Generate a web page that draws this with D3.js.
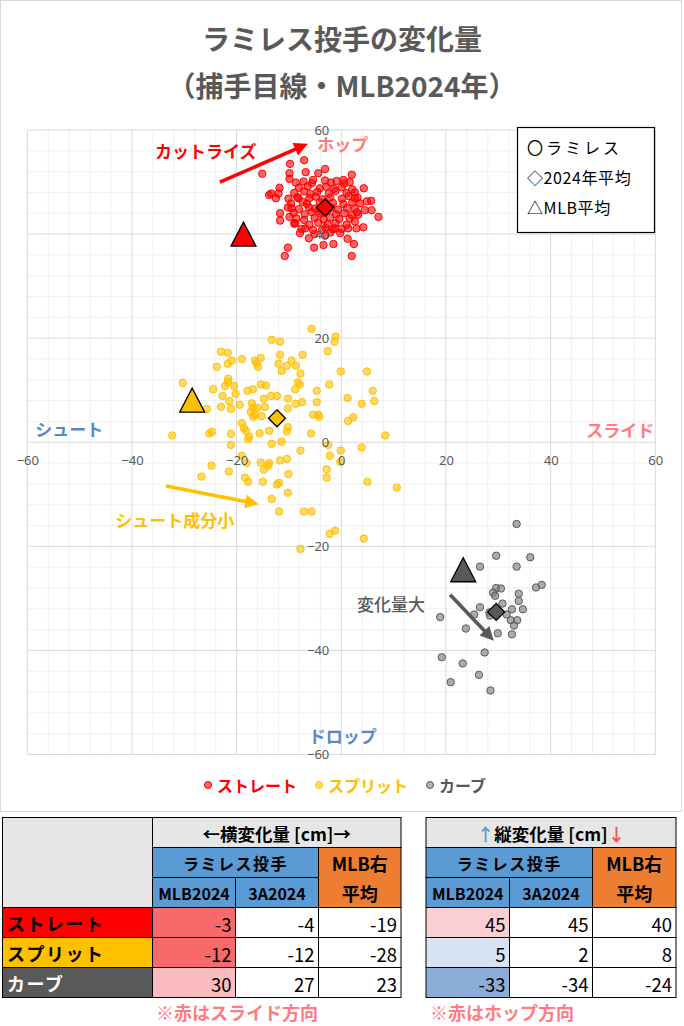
<!DOCTYPE html>
<html><head><meta charset="utf-8">
<script src="https://cdn.jsdelivr.net/npm/d3@7"></script>
<style>body{margin:0;background:#fff}</style>
</head><body>
<svg id="c" width="684" height="1026"></svg>
<script>
// ---------- DATA ----------
const pitchNames = ["ストレート", "スプリット", "カーブ"];
const straightPts = [
[-7.1,54.2],[-3.1,52.5],[-9.8,53.5],[-6.8,51.9],[-4.4,51.7],[2.0,51.4],[-15.1,51.6],[-9.9,51.7],[-9.9,50.6],[-8.7,49.9],
[-5.4,50.4],[4.3,48.8],[-11.8,48.9],[-13.4,47.8],[-13.8,47.5],[-12.0,47.8],[-12.5,46.9],[5.7,46.4],[4.9,46.3],[5.8,44.6],
[4.5,44.6],[7.1,43.3],[-11.7,44.0],[-11.7,42.6],[-9.9,43.3],[4.2,41.3],[2.9,41.1],[1.3,41.1],[-7.9,40.2],[-6.2,39.2],
[-3.4,37.9],[-1.5,38.1],[1.2,39.1],[2.4,38.1],[-10.2,37.4],[-5.2,37.4],[-0.2,40.2],[-10.8,35.8],[2.0,35.8],
[0.4,50.4],[2.6,46.9],[3.2,43.7],[2.6,42.4],[-8.2,46.9],[-9.5,45.0],[-8.8,42.1],[-1.2,41.1],[-3.7,40.8],[-6.9,41.1],
[-7.2,50.1],[-5.6,49.8],[-3.1,50.3],[-2.0,49.9],[-0.9,50.2],[0.6,49.7],[1.6,50.0],
[-8.1,48.9],[-6.4,49.2],[-4.1,48.8],[-2.9,49.1],[-1.4,48.7],[0.1,49.0],[2.1,48.6],
[-9.0,47.9],[-7.1,48.2],[-5.9,47.7],[-4.6,48.1],[-2.4,47.8],[-1.1,48.3],[1.0,47.9],[2.6,48.0],
[-10.1,46.8],[-8.4,47.1],[-6.1,46.9],[-4.9,47.2],[-3.6,46.7],[-2.1,47.0],[0.1,46.8],[1.4,47.3],[3.1,47.0],
[-9.6,45.9],[-7.4,46.2],[-6.6,45.8],[-4.1,46.1],[-2.9,45.7],[-1.6,46.0],[0.4,45.8],[2.1,46.1],[3.6,45.9],
[-10.2,45.1],[-8.1,44.8],[-6.2,45.2],[-5.0,44.9],[-1.9,45.1],[-0.6,44.7],[1.1,45.0],[2.6,44.9],
[-9.1,44.1],[-7.0,43.8],[-5.6,44.2],[-4.0,43.9],[-3.1,44.3],[-1.0,43.8],[0.6,44.0],[2.0,43.7],[3.0,44.2],
[-8.6,43.0],[-7.1,42.7],[-5.1,43.1],[-3.4,42.8],[-2.1,43.2],[-0.4,42.9],[1.6,43.0],
[-9.0,42.0],[-6.1,41.8],[-4.4,42.2],[-2.6,41.9],[-1.1,42.1],[1.0,41.8],
[-7.6,41.0],[-5.4,40.8],[-3.0,41.2],[-1.6,40.9],[0.1,41.0],
[-5.1,40.0],[-3.1,39.7],[-2.1,40.3],
[-3.5,45.3],[-4.2,45.0],[-2.6,44.6],[-3.8,44.3]
];
const splitPts = [
[-5.7,21.8],[-1.1,20.3],[-1.3,19.3],[-13.3,19.7],[-11.7,19.3],[-2.6,17.5],[-23.0,17.4],[-21.7,17.2],[-11.7,16.8],[-7.4,16.8],
[-19.0,16.0],[-15.4,16.2],[-16.5,15.7],[-20.9,15.7],[-21.7,15.1],[-16.2,15.2],[-12.0,15.1],[-9.5,15.7],[-10.4,14.7],[-8.7,14.7],
[-23.8,14.5],[-15.9,14.5],[-11.4,13.7],[-7.8,13.2],[-0.1,13.6],[4.9,13.6],[-21.6,12.2],[-21.7,11.6],[-30.3,11.4],[-22.2,10.8],
[-20.5,10.8],[-8.3,11.5],[-7.9,11.1],[-2.3,11.1],[-15.4,11.1],[-14.4,10.9],[-24.5,10.2],[-17.9,9.9],[-16.9,10.2],[-8.8,10.2],
[-4.7,9.9],[-20.2,9.3],[6.0,9.9],[-22.7,8.9],[-13.4,8.9],[-12.3,8.9],[-14.8,8.4],[-10.2,8.4],[1.2,8.5],[-21.4,7.9],
[-17.1,7.5],[-19.4,7.2],[-8.7,7.4],[-7.5,7.7],[-4.7,7.7],[3.9,7.4],[6.3,7.9],[-25.7,6.4],[-23.0,6.8],[-21.1,6.4],
[-16.9,6.6],[-16.1,6.6],[-14.6,6.8],[-10.2,6.5],[-17.3,5.8],[-16.5,5.3],[-15.2,5.0],[-16.8,4.9],[-5.4,5.3],[-4.4,5.3],
[-4.2,4.9],[2.3,4.8],[1.3,4.1],[-19.0,3.7],[-18.6,2.7],[-18.2,2.2],[-10.2,2.9],[-13.8,2.2],[-10.4,2.1],[-25.2,1.7],
[-24.7,2.0],[-21.1,1.6],[-15.6,1.7],[-5.8,1.7],[-32.3,1.3],[8.4,1.3],[-17.6,1.1],
[-21.1,-0.5],[-17.8,0.6],[-13.3,-0.3],[-11.4,0.1],[-2.5,-0.5],[-0.1,-1.6],[3.9,-1.0],[-7.8,-1.6],[-2.2,-2.6],[-19.0,-2.6],
[-18.1,-4.0],[-24.8,-4.5],[-15.4,-3.9],[-13.8,-4.0],[-14.0,-4.5],[-11.7,-3.5],[-10.4,-3.2],[-0.2,-3.8],[-21.5,-5.6],[-14.8,-5.3],
[-26.7,-6.6],[-2.8,-5.2],[-2.8,-6.8],[-10.1,-6.1],[-18.4,-6.8],[-17.8,-7.6],[-15.0,-7.6],[-12.3,-8.1],[-11.9,-7.8],[5.0,-7.6],
[10.6,-8.7],[-10.2,-9.7],[-13.3,-10.9],[-11.9,-13.3],[-7.1,-13.3],[-5.7,-13.3],[-1.2,-17.0],[-2.2,-17.6],[4.3,-18.5],[-7.8,-20.5]
];
const curvePts = [
[33.5,-15.7],[29.6,-21.8],[36.1,-22.1],[26.5,-23.9],[33.5,-23.9],[37.2,-27.9],[38.3,-27.4],[29.6,-28.0],[30.5,-28.1],[29.0,-28.9],
[29.4,-29.5],[33.9,-29.1],[33.9,-30.5],[30.8,-31.0],[26.5,-31.7],[32.6,-32.1],[34.7,-32.1],[31.6,-33.1],[28.3,-32.7],[25.4,-33.1],
[18.9,-33.6],[28.4,-33.3],[32.4,-34.2],[33.6,-34.2],[33.0,-35.2],[23.8,-35.8],[29.9,-36.7],[32.6,-36.9],[27.4,-40.4],[19.2,-41.3],
[23.2,-42.5],[26.3,-44.7],[20.9,-46.1],[28.5,-47.7]
];
const seasonAvgX = [-3.1, -12.3, 29.6];
const seasonAvgY = [45.1, 4.6, -32.6];
const mlbAvgX = [-18.7, -28.5, 23.3];
const mlbAvgY = [40.0, 8.1, -24.5];
const axisTicks = [-60, -40, -20, 0, 20, 40, 60];

const horizMLB = [-3, -12, 30];
const horiz3A  = [-4, -12, 27];
const horizAvg = [-19, -28, 23];
const vertMLB  = [45, 5, -33];
const vert3A   = [45, 2, -34];
const vertAvg  = [40, 8, -24];

// ---------- STYLE ----------
const JP = "'Noto Sans CJK JP','Noto Sans',sans-serif";
const NUM = "'Noto Sans','DejaVu Sans',sans-serif";
const fillCol = ["#ff0000", "#ffc000", "#7f7f7f"];
const strokeCol = ["#ff0000", "#ffc000", "#5a5a5a"];
const markCol = ["#ff0000", "#ffc000", "#595959"];
const legTextCol = ["#ff0000", "#ffc000", "#595959"];
const rowBg = ["#ff0000", "#ffc000", "#595959"];
const rowFg = ["#000", "#000", "#fff"];
const slideCol = "#ff7c80", shootCol = "#5b87c5";

const svg = d3.select("#c");
const x = d3.scaleLinear().domain([-60, 60]).range([27.3, 655.3]);
const y = d3.scaleLinear().domain([-60, 60]).range([754.5, 130]);

svg.append("rect").attr("width", 684).attr("height", 1026).attr("fill", "#fff");
svg.append("rect").attr("x", 0.5).attr("y", 0.5).attr("width", 681).attr("height", 811)
  .attr("fill", "none").attr("stroke", "#d9d9d9");

// title
svg.append("text").attr("x", 342).attr("y", 38).attr("text-anchor", "middle").attr("dominant-baseline", "central")
  .attr("font-family", JP).attr("font-weight", "bold").attr("font-size", 28).attr("fill", "#595959").text("ラミレス投手の変化量");
svg.append("text").attr("x", 342).attr("y", 85).attr("text-anchor", "middle").attr("dominant-baseline", "central")
  .attr("font-family", JP).attr("font-weight", "bold").attr("font-size", 28).attr("fill", "#595959").text("（捕手目線・MLB2024年）");

// grid
const gridVals = d3.range(-60, 61, 4).sort((a, b) => (a % 20 === 0) - (b % 20 === 0));
const grid = svg.append("g");
grid.selectAll(".gv").data(gridVals).join("line")
  .attr("x1", d => x(d)).attr("x2", d => x(d)).attr("y1", y(60)).attr("y2", y(-60))
  .attr("stroke", d => d % 20 === 0 ? "#d9d9d9" : "#efefef").attr("stroke-width", 1);
grid.selectAll(".gh").data(gridVals).join("line")
  .attr("y1", d => y(d)).attr("y2", d => y(d)).attr("x1", x(-60)).attr("x2", x(60))
  .attr("stroke", d => d % 20 === 0 ? "#d9d9d9" : "#efefef").attr("stroke-width", 1);
grid.selectAll("line").filter(d => d % 20 === 0).raise();

// points
const series = [straightPts, splitPts, curvePts];
series.forEach((pts, i) => {
  svg.append("g").selectAll("circle").data(pts).join("circle")
    .attr("cx", d => x(d[0])).attr("cy", d => y(d[1])).attr("r", 3.7)
    .attr("fill", fillCol[i]).attr("fill-opacity", i === 2 ? 0.65 : 0.6)
    .attr("stroke", strokeCol[i]).attr("stroke-width", 1);
});

// MLB average triangles
const tri = d3.line();
mlbAvgX.forEach((mx, i) => {
  const cx = x(mx), cy = y(mlbAvgY[i]);
  svg.append("path").attr("d", tri([[cx, cy - 12], [cx + 12.5, cy + 12], [cx - 12.5, cy + 12]]) + "Z")
    .attr("fill", markCol[i]).attr("stroke", "#000").attr("stroke-width", 1.3);
});
// season average diamonds
seasonAvgX.forEach((sx, i) => {
  const cx = x(sx), cy = y(seasonAvgY[i]), r = 8.5;
  svg.append("path").attr("d", tri([[cx, cy - r], [cx + r, cy], [cx, cy + r], [cx - r, cy]]) + "Z")
    .attr("fill", markCol[i]).attr("stroke", "#000").attr("stroke-width", 1.3);
});

// axis labels
const ax = svg.append("g").attr("transform", `translate(0,${y(0)})`)
  .call(d3.axisBottom(x).tickValues(axisTicks).tickSize(0).tickPadding(14).tickFormat(d3.format("d")));
const ay = svg.append("g").attr("transform", `translate(${x(0)},0)`)
  .call(d3.axisLeft(y).tickValues(axisTicks).tickSize(0).tickPadding(12).tickFormat(d3.format("d")));
[ax, ay].forEach(a => {
  a.select(".domain").remove();
  a.selectAll("text").attr("font-family", NUM).attr("font-size", 13).attr("fill", "#595959");
});

// annotation arrows
const defs = svg.append("defs");
const arrows = [
  {from: [-23.2, 50.0], to: [-8.3, 56.5], col: "#ff0000", id: "ar"},
  {from: [-33.5, -8.4], to: [-17.8, -11.5], col: "#ffc000", id: "ay"},
  {from: [20.8, -29.3], to: [27.7, -36.6], col: "#595959", id: "ag"}
];
arrows.forEach(a => {
  defs.append("marker").attr("id", a.id).attr("viewBox", "0 0 10 10").attr("refX", 2).attr("refY", 5)
    .attr("markerWidth", 4.2).attr("markerHeight", 3.8).attr("orient", "auto")
    .append("path").attr("d", "M0,0 L10,5 L0,10 Z").attr("fill", a.col);
  svg.append("line").attr("x1", x(a.from[0])).attr("y1", y(a.from[1]))
    .attr("x2", x(a.to[0])).attr("y2", y(a.to[1]))
    .attr("stroke", a.col).attr("stroke-width", 3.6).attr("marker-end", `url(#${a.id})`);
});

// annotation texts
const annos = [
  {t: "カットライズ", x: -35.6, y: 56.1, a: "start", c: "#ff0000", s: 17, w: "bold"},
  {t: "ホップ", x: -4.6, y: 57.5, a: "start", c: slideCol, s: 17, w: "bold"},
  {t: "スライド", x: 59.8, y: 2.4, a: "end", c: slideCol, s: 17, w: "bold"},
  {t: "シュート", x: -58.5, y: 2.7, a: "start", c: shootCol, s: 17, w: "bold"},
  {t: "ドロップ", x: -6.2, y: -56.4, a: "start", c: shootCol, s: 17, w: "bold"},
  {t: "シュート成分小", x: -43.2, y: -14.9, a: "start", c: "#ffc000", s: 17, w: "bold"},
  {t: "変化量大", x: 3.0, y: -30.9, a: "start", c: "#595959", s: 17, w: 500}
];
svg.append("g").selectAll("text").data(annos).join("text")
  .attr("x", d => x(d.x)).attr("y", d => y(d.y)).attr("text-anchor", d => d.a).attr("dominant-baseline", "central")
  .attr("font-family", JP).attr("font-size", d => d.s).attr("font-weight", d => d.w).attr("fill", d => d.c).text(d => d.t);

// legend box
const lg = svg.append("g");
lg.append("rect").attr("x", 517.5).attr("y", 127.5).attr("width", 137).attr("height", 105)
  .attr("fill", "#fff").attr("stroke", "#000").attr("stroke-width", 1.2);
[["〇ラミレス", 3], ["◇2024年平均", 0.6], ["△MLB平均", 0.6]].forEach((t, i) => {
  lg.append("text").attr("x", 527).attr("y", 147 + i * 30).attr("dominant-baseline", "central")
    .attr("letter-spacing", t[1])
    .attr("font-family", JP).attr("font-size", 16).attr("fill", "#000").text(t[0]);
});

// bottom series legend
const legX = [208, 319, 430];
pitchNames.forEach((n, i) => {
  svg.append("circle").attr("cx", legX[i]).attr("cy", 785).attr("r", 3.5)
    .attr("fill", fillCol[i]).attr("fill-opacity", 0.6).attr("stroke", strokeCol[i]);
  svg.append("text").attr("x", legX[i] + 9).attr("y", 785).attr("dominant-baseline", "central")
    .attr("font-family", JP).attr("font-size", 16).attr("font-weight", "bold").attr("fill", legTextCol[i]).text(n);
});

// ---------- TABLES ----------
const diffColor = d3.scaleLinear().domain([-13, 0, 16]).range(["#5a8ac6", "#fcfcff", "#f8696b"]);
const T = svg.append("g");
function cell(x0, y0, w, h, fill) {
  T.append("rect").attr("x", x0).attr("y", y0).attr("width", w).attr("height", h)
    .attr("fill", fill).attr("stroke", "#000").attr("stroke-width", 1);
}
function txt(tx, ty, t, opt = {}) {
  const e = T.append("text").attr("x", tx).attr("y", ty).attr("dominant-baseline", "central")
    .attr("text-anchor", opt.a || "middle").attr("font-family", JP)
    .attr("font-size", opt.s || 16).attr("font-weight", opt.w || "bold").attr("fill", opt.c || "#000");
  if (opt.ls) e.attr("letter-spacing", opt.ls);
  e.text(t);
  return e;
}
const ry = [817.5, 847.5, 877.5, 907.5, 937.5, 967.5, 997.5];
const rc = i => (ry[i] + ry[i + 1]) / 2;

function table(cx, own, ownB, avg, title, arrowCols) {
  const hg = "#e7e6e6", blue = "#5b9bd5", orange = "#ed7d31";
  cell(cx[0], ry[0], cx[3] - cx[0], 30, hg);
  const tt = txt((cx[0] + cx[3]) / 2, rc(0), "", {s: 17.5});
  tt.append("tspan").attr("fill", arrowCols[0]).text(title[0]);
  tt.append("tspan").text(title[1]);
  tt.append("tspan").attr("fill", arrowCols[1]).text(title[2]);
  cell(cx[0], ry[1], cx[2] - cx[0], 30, blue);
  txt((cx[0] + cx[2]) / 2, rc(1), "ラミレス投手", {s: 16, ls: 1.5});
  cell(cx[2], ry[1], cx[3] - cx[2], 60, orange);
  txt((cx[2] + cx[3]) / 2, rc(1), "MLB右", {s: 18});
  txt((cx[2] + cx[3]) / 2, rc(2), "平均", {s: 18});
  cell(cx[0], ry[2], cx[1] - cx[0], 30, blue);
  cell(cx[1], ry[2], cx[2] - cx[1], 30, blue);
  txt((cx[0] + cx[1]) / 2, rc(2), "MLB2024", {s: 16});
  txt((cx[1] + cx[2]) / 2, rc(2), "3A2024", {s: 16});
  own.forEach((v, i) => {
    const r = 3 + i;
    cell(cx[0], ry[r], cx[1] - cx[0], 30, diffColor(v - avg[i]));
    cell(cx[1], ry[r], cx[2] - cx[1], 30, "#fff");
    cell(cx[2], ry[r], cx[3] - cx[2], 30, "#fff");
    [v, ownB[i], avg[i]].forEach((val, k) => {
      txt(cx[k + 1] - 4, rc(r) + 1, String(val), {a: "end", s: 18.5, w: "normal"});
    });
  });
}

cell(2.5, ry[0], 150, 90, "#e7e6e6");
pitchNames.forEach((n, i) => {
  cell(2.5, ry[3 + i], 150, 30, rowBg[i]);
  txt(7, rc(3 + i), n, {a: "start", s: 18, c: rowFg[i], ls: 1.5});
});
table([152.5, 235.5, 318.5, 401], horizMLB, horiz3A, horizAvg, ["←", "横変化量 [cm]", "→"], ["#000", "#000"]);
table([426, 509.5, 592.5, 676], vertMLB, vert3A, vertAvg, ["↑", "縦変化量 [cm]", "↓"], ["#5b9bd5", "#ff5050"]);

txt(237, 1012, "※赤はスライド方向", {s: 18, c: slideCol});
txt(502, 1012, "※赤はホップ方向", {s: 18, c: slideCol});
</script>
</body></html>
